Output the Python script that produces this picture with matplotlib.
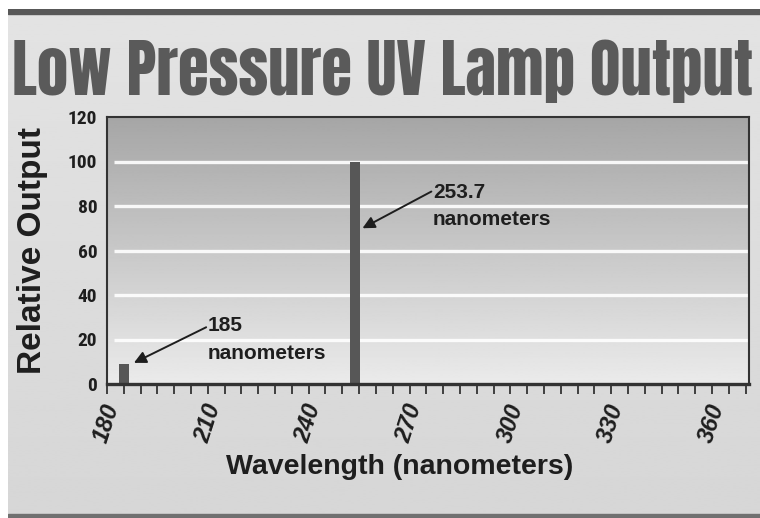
import numpy as np
import matplotlib.pyplot as plt
from matplotlib.patches import Rectangle

# --- dados ---
wavelengths = [185, 253.7]
rel_output = [9, 100]
bar_labels = ["185\nnanometers", "253.7\nnanometers"]
label_xy = [(210, 20), (277, 80)]
arrow_tail = [(209.5, 25.5), (276.5, 86.5)]
arrow_tip = [(188, 9.5), (256, 70)]
y_ticks = [0, 20, 40, 60, 80, 100, 120]
x_ticks = [180, 210, 240, 270, 300, 330, 360]

TITLE_FONT = ['Anton', 'DejaVu Sans']
NARROW_FONT = ['Roboto Condensed', 'DejaVu Sans']
BODY_FONT = ['Liberation Sans', 'DejaVu Sans']
TEXT_COLOR = '#1e1e1e'

W, H = 760, 518
fig = plt.figure(figsize=(W / 100, H / 100), dpi=100)
fig.patch.set_facecolor('white')

# fundo da figura (gradiente cinza claro) + faixas escuras
bg = fig.add_axes([8 / W, 0, 1 - 8 / W, 1 - 9 / H])
bg.set_axis_off()
grad = np.linspace(0.89, 0.84, 256).reshape(-1, 1)
bg.imshow(grad, cmap='gray', vmin=0, vmax=1, aspect='auto', extent=[0, 1, 0, 1])
bg.set_xlim(0, 1)
bg.set_ylim(0, 1)
bg.add_patch(Rectangle((0, 1 - 5 / H), 1, 5 / H, color='#585858', transform=bg.transAxes))
bg.add_patch(Rectangle((0, 0), 1, 4 / H, color='#707070', transform=bg.transAxes))

title = fig.text(12 / W, 1 - 95 / H, "Low Pressure UV Lamp Output", family=TITLE_FONT,
                 fontweight='normal', fontsize=50, color='#5a5a5a', va='baseline', ha='left')
# ajusta o tamanho do título para ocupar a largura do original
renderer = fig.canvas.get_renderer()
w_px = title.get_window_extent(renderer).width
title.set_fontsize(50 * 740 / w_px)

ax = fig.add_axes([107 / W, 1 - 384 / H, (749 - 107) / W, (384 - 117) / H])
ax.set_xlim(180, 371)
ax.set_ylim(0, 120)

# gradiente da área do gráfico
plot_grad = np.linspace(0.92, 0.65, 256).reshape(-1, 1)
ax.imshow(plot_grad, cmap='gray', vmin=0, vmax=1, aspect='auto',
          extent=[180, 371, 0, 120], origin='lower', zorder=0)

for y in y_ticks[1:-1]:
    ax.hlines(y, 182, 371, color='white', lw=2.4, alpha=0.9, zorder=1)

ax.bar(wavelengths, rel_output, width=3, color='#575757', zorder=2)

for txt, pos, tail, tip in zip(bar_labels, label_xy, arrow_tail, arrow_tip):
    ax.text(pos[0], pos[1], txt, family=BODY_FONT, fontweight='bold', fontsize=15,
            color=TEXT_COLOR, va='center', ha='left', linespacing=1.55, zorder=3)
    ax.annotate('', xy=tip, xytext=tail,
                arrowprops=dict(arrowstyle='-|>', color=TEXT_COLOR, lw=1.4,
                                mutation_scale=18, shrinkA=0, shrinkB=0),
                zorder=3)

ax.set_yticks(y_ticks)
ax.set_xticks(x_ticks)
ax.set_xticks(np.arange(180, 371, 5), minor=True)
ax.tick_params(axis='y', length=0, pad=7, labelsize=14, labelcolor=TEXT_COLOR)
ax.tick_params(axis='x', which='both', direction='out', length=7, width=1.3,
               color='#333333', labelsize=17, labelcolor=TEXT_COLOR, pad=5)
for lab in ax.get_yticklabels():
    lab.set_family(NARROW_FONT)
    lab.set_fontweight('bold')
for lab in ax.get_xticklabels():
    lab.set_family(BODY_FONT)
    lab.set_fontweight('bold')
    lab.set_style('italic')
    lab.set_rotation(72)
    lab.set_ha('center')
    lab.set_va('top')

for s in ['top', 'right', 'left']:
    ax.spines[s].set_color('#333333')
    ax.spines[s].set_linewidth(1.5)
ax.spines['bottom'].set_color('#333333')
ax.spines['bottom'].set_linewidth(2.4)

ax.set_ylabel("Relative Output", family=BODY_FONT, fontweight='bold',
              fontsize=24, color=TEXT_COLOR)
ax.yaxis.set_label_coords(-(107 - 48) / (749 - 107), 0.5)
ax.set_xlabel("Wavelength (nanometers)", family=BODY_FONT, fontweight='bold',
              fontsize=20.5, color=TEXT_COLOR)
ax.xaxis.set_label_coords((400 - 107) / (749 - 107), -0.262)

fig.savefig('out.png', dpi=100)
